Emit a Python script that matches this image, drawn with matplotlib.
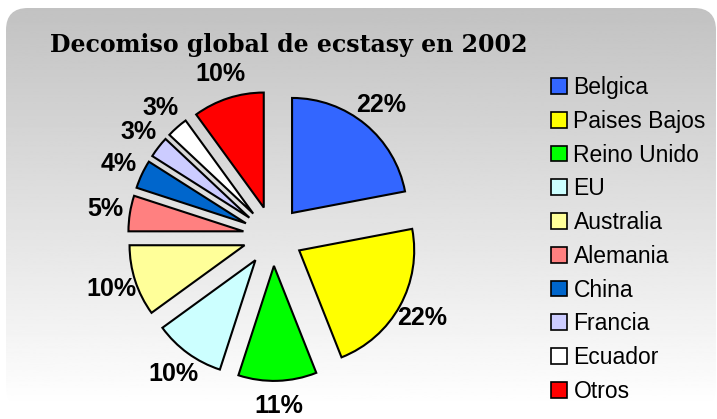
import numpy as np
import matplotlib
matplotlib.use("Agg")
import matplotlib.pyplot as plt
from matplotlib.patches import FancyBboxPatch, Patch

paises = ['Belgica', 'Paises Bajos', 'Reino Unido', 'EU', 'Australia',
          'Alemania', 'China', 'Francia', 'Ecuador', 'Otros']
porcentajes = [22, 22, 11, 10, 10, 5, 4, 3, 3, 10]
colores = ['#3366FF', '#FFFF00', '#00FF00', '#CCFFFF', '#FFFF99',
           '#FF8080', '#0066CC', '#CCCCFF', '#FFFFFF', '#FF0000']
titulo = 'Decomiso global de ecstasy en 2002'

W, H = 717, 419
fig = plt.figure(figsize=(W / 100, H / 100), dpi=100)
fig.patch.set_facecolor('white')

# fondo con degradado y esquinas redondeadas
bg = fig.add_axes([0, 0, 1, 1], zorder=-1)
bg.set_xlim(0, W)
bg.set_ylim(H, 0)
bg.axis('off')
grad = np.linspace(0.76, 1.0, 256).reshape(-1, 1)
img = bg.imshow(grad, cmap='gray', vmin=0, vmax=1, aspect='auto',
                extent=[6, 716, 408, 8])
caja = FancyBboxPatch((6, 8), 710, 400, boxstyle='round,pad=0,rounding_size=22',
                      facecolor='none', edgecolor='none', transform=bg.transData)
bg.add_patch(caja)
img.set_clip_path(caja)

# pastel
r_px = 115
lim = 1.7
lado = 2 * lim * r_px
cx, cy = 273, 236
ax = fig.add_axes([(cx - lado / 2) / W, (H - cy - lado / 2) / H, lado / W, lado / H])

wedges, texts, autotexts = ax.pie(
    porcentajes, colors=colores, startangle=90, counterclock=False,
    explode=[0.26] * len(porcentajes), autopct='%1.0f%%', pctdistance=1.22,
    wedgeprops=dict(edgecolor='black', linewidth=1.5),
    textprops=dict(fontsize=18, fontweight='bold', family='Liberation Sans'),
    frame=True)
ax.axis('off')
ax.set_xlim(-lim, lim)
ax.set_ylim(-lim, lim)

fig.text(50 / W, 1 - 45 / H, titulo, fontsize=17, fontweight='bold',
         family='DejaVu Serif', va='center', ha='left')

handles = [Patch(facecolor=c, edgecolor='black', linewidth=1.2) for c in colores]
fig.legend(handles, paises, loc='upper left', bbox_to_anchor=(551 / W, 1 - 76 / H),
           frameon=False, prop=dict(family='Liberation Sans', size=16.5),
           handlelength=0.68, handleheight=0.68, handletextpad=0.3,
           labelspacing=0.47, borderpad=0, borderaxespad=0)

fig.savefig('out.png', dpi=100)
